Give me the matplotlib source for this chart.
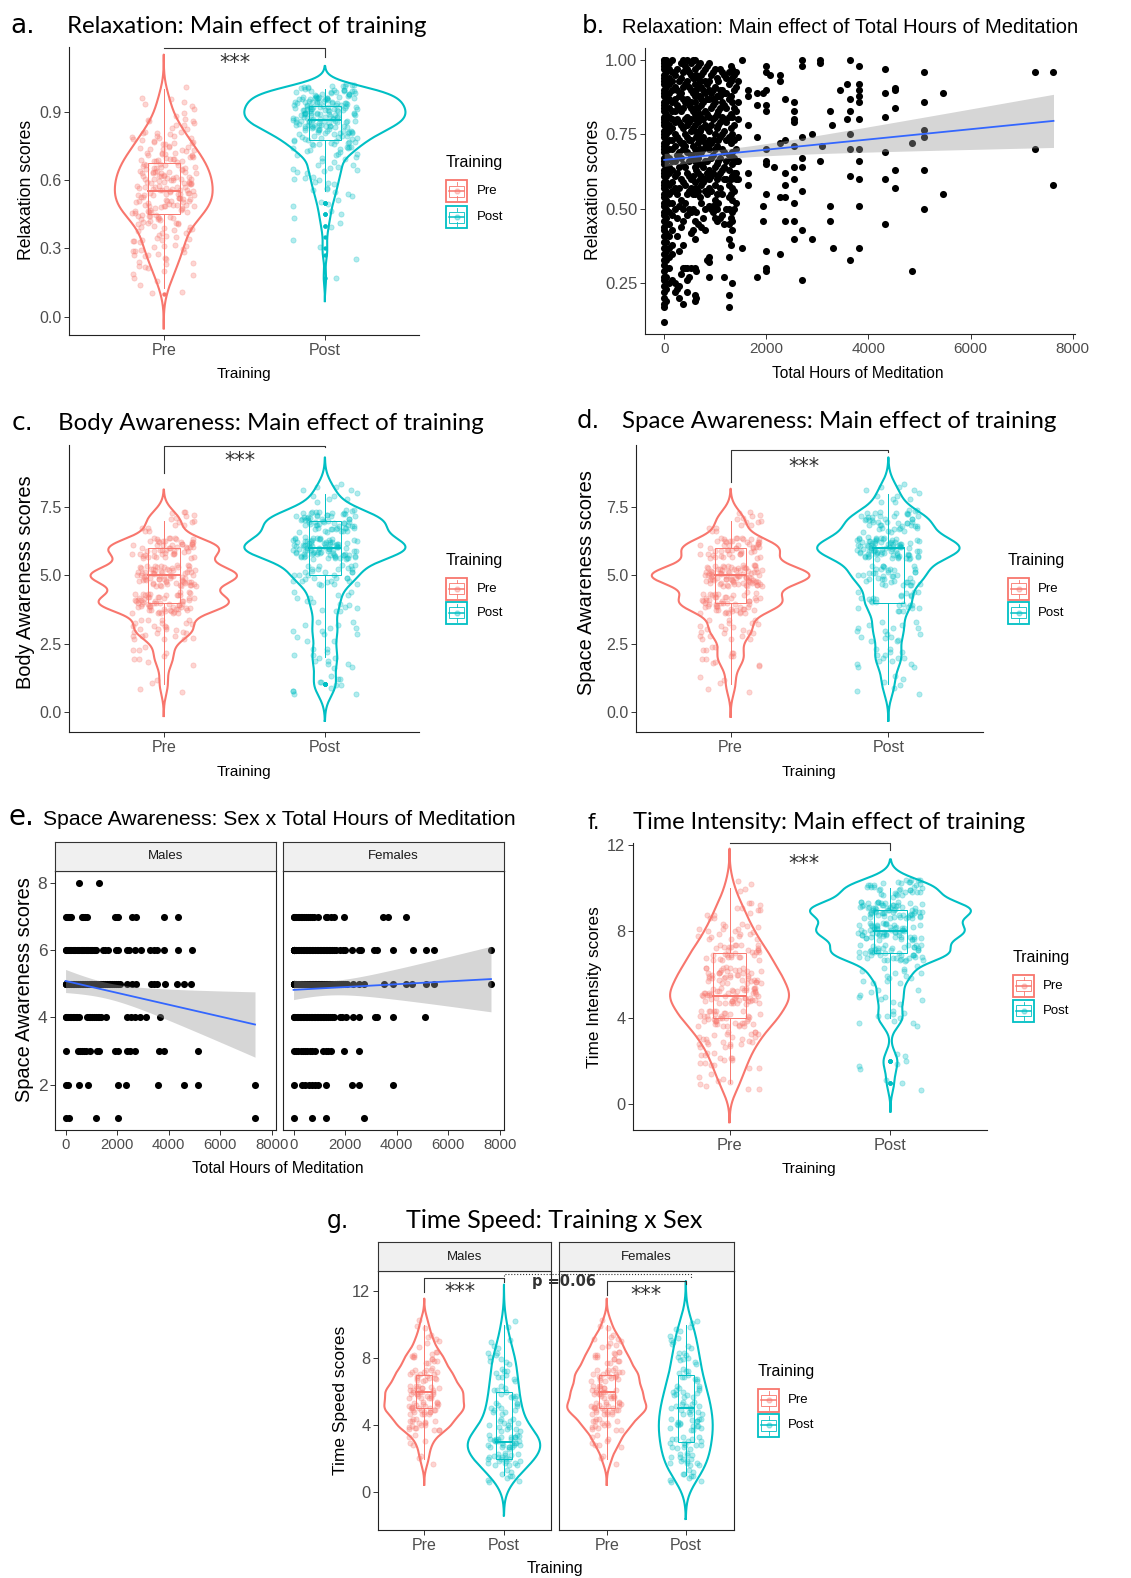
import numpy as np
import matplotlib
matplotlib.use('Agg')
import matplotlib.pyplot as plt
from matplotlib.patches import Rectangle
from matplotlib.lines import Line2D
from matplotlib.transforms import Affine2D
from matplotlib import font_manager

# ---------------- values ----------------
TRAINING = ['Pre', 'Post']

# a. relaxation scores: score level and number of participants on it
relax_pre_levels = [0.1, 0.125, 0.15, 0.175, 0.2, 0.225, 0.25, 0.275, 0.3, 0.325, 0.35, 0.375,
                    0.4, 0.425, 0.45, 0.475, 0.5, 0.525, 0.55, 0.575, 0.6, 0.625, 0.65, 0.675,
                    0.7, 0.725, 0.75, 0.775, 0.8, 0.825, 0.85, 0.875, 0.9, 0.925, 0.95, 0.975, 1.0]
relax_pre_counts = [1, 1, 2, 2, 3, 4, 4, 5, 5, 6, 6, 6, 7, 9, 11, 12, 13, 14, 13, 13, 13, 13, 12,
                    11, 11, 9, 8, 7, 6, 5, 4, 3, 2, 2, 2, 1, 1]
relax_post_levels = [0.17, 0.27, 0.3, 0.35, 0.4, 0.45, 0.5, 0.55, 0.6, 0.65, 0.7, 0.725, 0.75,
                     0.775, 0.8, 0.825, 0.85, 0.875, 0.9, 0.925, 0.95, 0.975, 1.0]
relax_post_counts = [1, 1, 1, 1, 2, 3, 4, 6, 7, 9, 7, 7, 9, 11, 13, 16, 21, 21, 21, 21, 19, 19, 18]

# c. body awareness
body_pre_levels = [1, 2, 3, 4, 5, 6, 7]
body_pre_counts = [4, 9, 28, 65, 73, 55, 16]
body_post_levels = [1, 2, 3, 4, 5, 6, 7, 8]
body_post_counts = [12, 13, 13, 15, 33, 90, 63, 11]

# d. space awareness
space_pre_levels = [1, 2, 3, 4, 5, 6, 7]
space_pre_counts = [5, 14, 22, 55, 87, 52, 15]
space_post_levels = [1, 2, 3, 4, 5, 6, 7, 8]
space_post_counts = [7, 15, 17, 26, 40, 86, 47, 12]

# f. time intensity
tint_levels = [1, 2, 3, 4, 5, 6, 7, 8, 9, 10]
tint_pre_counts = [9, 15, 24, 40, 52, 42, 32, 20, 12, 4]
tint_post_counts = [3, 6, 0, 10, 10, 15, 47, 58, 65, 36]

# g. time speed, by sex
speed_pre_levels = [2, 3, 4, 5, 6, 7, 8, 9, 10]
speed_post_levels = [1, 2, 3, 4, 5, 6, 7, 8, 9, 10]
speed_m_pre_counts = [3, 5, 18, 27, 26, 19, 13, 6, 3]
speed_m_post_counts = [9, 22, 30, 14, 12, 10, 9, 8, 4, 2]
speed_f_pre_counts = [3, 8, 15, 26, 22, 20, 14, 9, 3]
speed_f_post_counts = [10, 15, 16, 18, 16, 14, 10, 9, 7, 5]

# b. relaxation vs total hours: hours of each column of dots and the scores in it
b_hours = [0, 40, 90, 150, 220, 260, 300, 335, 370, 410, 450, 485, 520, 560, 600, 630, 660, 700,
           730, 770, 800, 840, 880, 910, 950, 990, 1030, 1060, 1100, 1140, 1180, 1220, 1260, 1300,
           1330, 1370, 1400, 1450, 1520, 1650, 1810, 1930, 2000, 2080, 2160, 2270, 2365, 2540,
           2704, 2886, 3050, 3081, 3244, 3277, 3310, 3440, 3570, 3635, 3818, 4319, 4515, 4853,
           5081, 5459, 7264, 7622]
b_scores = [
    [1.0, 1.0, .99, .98, .97, .95, .94, .93, .92, .9, .89, .88, .86, .85, .84, .83, .81, .8, .79,
     .78, .76, .75, .74, .72, .71, .7, .69, .67, .66, .65, .63, .62, .61, .59, .58, .57, .55, .54,
     .52, .51, .49, .48, .46, .44, .43, .41, .39, .37, .35, .33, .31, .29, .27, .26, .24, .22, .2,
     .18, .17, .12],
    [1.0, .98, .96, .93, .91, .89, .86, .84, .82, .79, .77, .75, .72, .7, .68, .66, .63, .61, .59,
     .56, .53, .5, .47, .45, .42, .39, .36, .33, .3, .27, .23, .19],
    [.99, .97, .94, .92, .89, .87, .84, .81, .78, .76, .73, .7, .67, .64, .62, .58, .55, .52, .49,
     .45, .41, .37, .34, .3, .25],
    [1.0, .96, .93, .9, .86, .83, .8, .77, .73, .7, .66, .63, .59, .56, .52, .48, .43, .38, .35, .26],
    [.95, .91, .87, .83, .79, .75, .71, .66, .61, .57, .5, .25, .22],
    [.97, .9, .85, .8, .74, .68, .62, .55, .47, .41, .23],
    [.93, .88, .84, .79, .73, .69, .64, .57, .51, .36, .24, .2],
    [.99, .94, .89, .83, .78, .72, .67, .6, .53, .44, .28],
    [1.0, .96, .91, .87, .84, .77, .72, .7, .65, .59, .5, .46, .38, .3, .18],
    [.98, .92, .86, .8, .75, .71, .64, .58, .52, .3],
    [1.0, .97, .93, .87, .81, .78, .74, .69, .62, .55, .48, .3, .26, .22],
    [.96, .91, .85, .79, .73, .66, .61, .56, .5, .27],
    [.99, .95, .9, .86, .84, .8, .76, .73, .68, .6, .57, .49, .42, .3],
    [1.0, .94, .89, .83, .77, .71, .67, .61, .55, .5, .43],
    [1.0, .97, .92, .88, .86, .82, .78, .76, .7, .66, .64, .59, .55, .46, .4, .3, .21, .19],
    [.95, .9, .84, .8, .74, .69, .63, .57, .49, .29, .2],
    [.98, .94, .91, .88, .84, .79, .75, .72, .67, .62, .56, .45],
    [.99, .93, .88, .82, .76, .7, .65, .6, .54],
    [.95, .91, .87, .85, .8, .77, .73, .69, .61, .58, .52, .44],
    [.96, .9, .86, .8, .74, .7, .64, .59, .47],
    [.97, .93, .89, .83, .78, .72, .66, .6, .56, .5, .43],
    [.98, .92, .87, .82, .77, .71, .66, .62, .55, .33],
    [.99, .93, .9, .87, .81, .76, .73, .7, .63, .6, .57, .51, .34, .32, .27],
    [.95, .89, .84, .78, .72, .67, .61, .56, .5],
    [.96, .9, .87, .85, .8, .73, .68, .62, .51, .49],
    [.97, .91, .86, .81, .75, .7, .64, .58, .53, .47],
    [.94, .88, .82, .77, .71, .65, .6, .55, .5, .46],
    [.93, .88, .83, .78, .73, .66, .61, .52],
    [.97, .9, .88, .84, .79, .74, .67, .62, .57, .47],
    [.96, .9, .86, .81, .75, .7, .63, .55, .48],
    [.95, .89, .85, .8, .76, .69, .64, .6, .45, .27],
    [.94, .89, .84, .79, .73, .66, .6, .5],
    [.96, .92, .87, .81, .74, .68, .63, .58, .54, .5, .45, .4, .34, .21, .17],
    [.98, .93, .88, .82, .77, .72, .67, .6, .55, .47, .38],
    [.97, .94, .86, .81, .75, .69, .65, .61, .57, .53, .49, .46, .43, .25],
    [.95, .9, .84, .78, .73, .67, .62, .56, .5],
    [.96, .91, .83, .7, .66, .62, .6, .52],
    [.93, .86, .8, .74, .66, .6],
    [1.0, .37],
    [.9, .88, .78, .62, .58],
    [.89, .85, .74, .27],
    [.89, .51, .46],
    [.98, .96, .9, .85, .83, .7, .66, .65, .55, .36, .3, .29],
    [.95],
    [.64],
    [.95, .93, .72, .54, .35],
    [.87, .73, .62, .58, .54, .46],
    [.86, .83, .8, .79, .71, .64, .6, .52, .46, .4],
    [1.0, .98, .74, .67, .64, .56, .43, .26],
    [.75, .4],
    [1.0, .99, .66],
    [.71],
    [.83, .51, .46],
    [.78],
    [.37],
    [.9],
    [.92, .8],
    [1.0, .87, .83, .75, .7, .61, .33],
    [.98, .92, .9, .88, .86, .8, .7, .66, .6, .51, .37],
    [.97, .89, .81, .69, .6, .45],
    [.905, .9, .84, .63, .57],
    [.72, .29],
    [.96, .86, .765, .74, .63, .5],
    [.89, .55],
    [.96, .7],
    [.96, .58],
]

# e. space awareness vs total hours; hours of every dot on each score row
e_levels = [8, 7, 6, 5, 4, 3, 2, 1]
e_males_hours = [
    [520, 1310],
    [0, 40, 90, 140, 190, 230, 620, 690, 760, 850, 1920, 1990, 2050, 2570, 2740, 3830, 4370],
    [0, 0, 40, 90, 130, 180, 230, 280, 330, 380, 430, 480, 530, 580, 630, 680, 730, 780, 830, 880,
     930, 980, 1030, 1090, 1150, 1200, 1460, 1540, 1640, 1950, 2020, 2370, 2450, 2690, 2910, 3290,
     3430, 3540, 3830, 4370, 4890],
    [0, 0, 0, 60, 130, 200, 270, 340, 410, 480, 550, 620, 690, 760, 830, 900, 970, 1040, 1110,
     1180, 1250, 1320, 1390, 1460, 1530, 1600, 1670, 1740, 1810, 1880, 1950, 2030, 2100, 2370,
     2560, 2720, 3300, 3440, 3560, 3850, 4330, 4590, 4860],
    [0, 0, 50, 100, 160, 220, 280, 340, 400, 460, 520, 830, 900, 960, 1030, 1100, 1170, 1240,
     1310, 1390, 1560, 2380, 2520, 2680, 2900, 3130, 3660],
    [0, 490, 570, 640, 720, 800, 940, 1230, 1300, 1920, 2040, 2370, 2500, 2700, 3640, 3830, 5140],
    [0, 100, 520, 880, 2030, 2360, 3600, 4600, 5130, 7350],
    [0, 130, 1200, 2030, 7350],
]
e_females_hours = [
    [],
    [0, 0, 50, 100, 160, 220, 280, 340, 420, 500, 570, 650, 730, 800, 960, 1240, 1310, 1440, 1580,
     1940, 3480, 3680, 4360],
    [0, 0, 0, 0, 0, 0, 20, 50, 80, 110, 170, 230, 290, 350, 410, 470, 530, 590, 650, 710, 770,
     830, 890, 950, 1010, 1070, 1130, 1190, 1250, 1310, 1370, 1430, 1490, 1560, 1640, 1820, 1900,
     2000, 2280, 2530, 2600, 3130, 3250, 3860, 4630, 5120, 5440, 7660],
    [0, 0, 0, 0, 0, 30, 50, 100, 160, 220, 280, 340, 400, 460, 520, 580, 640, 700, 760, 820, 880,
     940, 1000, 1060, 1120, 1180, 1240, 1300, 1360, 1420, 1480, 1540, 1600, 1680, 1760, 1840,
     1920, 2000, 2080, 2300, 2520, 2750, 3500, 3870, 4360, 4580, 5120, 5450, 7660],
    [0, 0, 60, 120, 180, 240, 300, 360, 420, 480, 540, 600, 660, 720, 780, 840, 900, 960, 1020,
     1080, 1140, 1200, 1260, 1320, 1400, 1480, 1560, 1800, 1880, 2050, 2300, 2550, 3150, 3250,
     3860, 5100],
    [0, 90, 180, 270, 360, 450, 540, 630, 720, 850, 1150, 1250, 1350, 1450, 1950, 2520],
    [0, 330, 450, 580, 700, 830, 960, 1250, 2250, 2550, 3850],
    [0, 720, 1260, 2750],
]

# ---------------- figure helpers ----------------
PRE, POST = '#F8766D', '#00BFC4'
COLORS = [PRE, POST]
plt.rcParams['font.family'] = ['Liberation Sans', 'DejaVu Sans']
_names = {f.name for f in font_manager.fontManager.ttflist}
NARROW = 'Liberation Sans Narrow' if 'Liberation Sans Narrow' in _names else 'Liberation Sans'
TITLE_FONT = 'Lato'

W, H = 1131, 1578
fig = plt.figure(figsize=(W / 100, H / 100), dpi=100)
PX = Affine2D().scale(1.0 / W, -1.0 / H).translate(0, 1) + fig.transFigure


def px_axes(l, t, r, b):
    return fig.add_axes([l / W, 1 - b / H, (r - l) / W, (b - t) / H])


def ptext(x, y, s, **kw):
    return fig.text(x, y, s, transform=PX, **kw)


def expand(levels, counts):
    return np.repeat(np.asarray(levels, float), counts)


def nrd0(x):
    sd = x.std(ddof=1)
    q75, q25 = np.percentile(x, [75, 25])
    lo = min(sd, (q75 - q25) / 1.34) or sd
    return 0.9 * lo * len(x) ** -0.2


def gauss_kde(x, bw, grid):
    z = (grid[:, None] - x[None, :]) / bw
    return np.exp(-0.5 * z * z).sum(1) / (len(x) * bw * np.sqrt(2 * np.pi))


def jitter(n, wx, wy, start):
    # deterministic spread (quadratic Weyl sequence), no random numbers
    i = np.arange(start, start + n, dtype=float)
    ux = (i * i * 0.5698402910 + i * 0.7548776662) % 1
    uy = (i * 0.5698402910) % 1
    return (ux - 0.5) * 2 * wx, (uy - 0.5) * 2 * wy


def draw_box(ax, vals, x0, col, w=0.2):
    q1, med, q3 = np.percentile(vals, [25, 50, 75])
    iqr = q3 - q1
    ok = (vals >= q1 - 1.5 * iqr) & (vals <= q3 + 1.5 * iqr)
    lo, hi = vals[ok].min(), vals[ok].max()
    ax.add_patch(Rectangle((x0 - w / 2, q1), w, q3 - q1, fill=False, ec=col, lw=0.7, zorder=3))
    ax.plot([x0 - w / 2, x0 + w / 2], [med, med], color=col, lw=1.4, zorder=3)
    ax.plot([x0, x0], [q3, hi], color=col, lw=0.7, zorder=3)
    ax.plot([x0, x0], [lo, q1], color=col, lw=0.7, zorder=3)
    out = vals[~ok]
    ax.scatter(np.full(len(out), x0), out, s=10, color=col, lw=0, zorder=3)


def violin_panel(ax, groups, yjit=0.4, width=1.0):
    curves = []
    for vals in groups:
        bw = nrd0(vals)
        grid = np.linspace(vals.min() - 3 * bw, vals.max() + 3 * bw, 512)
        curves.append((grid, gauss_kde(vals, bw, grid)))
    top = max(d.max() for _, d in curves)
    for k, ((grid, d), vals, col) in enumerate(zip(curves, groups, COLORS)):
        x0 = k + 1
        hw = d / top * width / 2
        ax.plot(np.concatenate([x0 - hw, (x0 + hw)[::-1], [x0 - hw[0]]]),
                np.concatenate([grid, grid[::-1], [grid[0]]]), color=col, lw=1.5, zorder=2)
        draw_box(ax, vals, x0, col)
        dx, dy = jitter(len(vals), 0.2, yjit, 1 + 500 * k)
        ax.scatter(x0 + dx, vals + dy, s=14, color=col, alpha=0.3, lw=0.6, zorder=4)
    ax.set_xticks([1, 2], TRAINING)


def lm_band(x, y, xs):
    n = len(x)
    slope, icpt = np.polyfit(x, y, 1)
    res = y - (icpt + slope * x)
    s = np.sqrt((res ** 2).sum() / (n - 2))
    se = s * np.sqrt(1 / n + (xs - x.mean()) ** 2 / ((x - x.mean()) ** 2).sum())
    return icpt + slope * xs, 1.965 * se


def scatter_fit(ax, x, y):
    ax.scatter(x, y, s=26, color='black', lw=0, zorder=2)
    xs = np.linspace(x.min(), x.max(), 120)
    fit, ci = lm_band(x, y, xs)
    ax.fill_between(xs, fit - ci, fit + ci, color='#999999', alpha=0.4, lw=0, zorder=3)
    ax.plot(xs, fit, color='#3366FF', lw=1.3, zorder=4)


def style(ax, size=11.5, xsize=None, box=False):
    for side in ('top', 'right'):
        ax.spines[side].set_visible(box)
    for sp in ax.spines.values():
        sp.set_color('#222222')
        sp.set_linewidth(0.8)
    ax.tick_params(length=3.5, width=0.7, color='#333333', labelcolor='#4D4D4D',
                   labelsize=size, pad=2)
    if xsize:
        ax.tick_params(axis='x', labelsize=xsize)


def strip(l, t, r, b, label):
    sa = px_axes(l, t, r, b)
    sa.set_xticks([])
    sa.set_yticks([])
    sa.set_facecolor('#F0F0F0')
    for sp in sa.spines.values():
        sp.set_color('#333333')
        sp.set_linewidth(0.8)
    sa.text(0.5, 0.5, label, transform=sa.transAxes, ha='center', va='center',
            fontsize=9.5, color='#1A1A1A')


def bracket(ax, y, tip1, tip2, x1=1, x2=2):
    ax.plot([x1, x1, x2, x2], [tip1, y, y, tip2], color='#333333', lw=0.8,
            clip_on=False, zorder=5)


def stars(x, baseline):
    ptext(x, baseline, '***', fontsize=15, family='DejaVu Sans', color='#333333',
          ha='center', va='baseline')


def legend(left, title_y, tops, label_x, kw=21, kh=22):
    ptext(left, title_y, 'Training', fontsize=11.5, ha='left', va='center')
    for top, col, lab in zip(tops, COLORS, TRAINING):
        fig.add_artist(Rectangle((left, top), kw, kh, transform=PX, fill=False, ec=col, lw=1.3))
        fig.add_artist(Rectangle((left + 0.125 * kw, top + 0.25 * kh), 0.75 * kw, 0.5 * kh,
                                 transform=PX, fill=False, ec=col, lw=0.6))
        fig.add_artist(Line2D([left + 0.125 * kw, left + 0.875 * kw], [top + 0.5 * kh] * 2,
                              transform=PX, color=col, lw=1.1))
        fig.add_artist(Line2D([left + 0.5 * kw] * 2, [top + 0.1 * kh, top + 0.25 * kh],
                              transform=PX, color=col, lw=0.6))
        fig.add_artist(Line2D([left + 0.5 * kw] * 2, [top + 0.75 * kh, top + 0.9 * kh],
                              transform=PX, color=col, lw=0.6))
        fig.add_artist(Line2D([left + 0.5 * kw], [top + 0.5 * kh], transform=PX, marker='o',
                              ms=3.5, color=col, alpha=0.35, lw=0))
        ptext(label_x, top + kh / 2, lab, fontsize=9.5, ha='left', va='center')


def heading(lx, x, baseline, letter, lsize, text, width, family=TITLE_FONT):
    ptext(lx, baseline, letter, fontsize=lsize, family='DejaVu Sans', va='baseline')
    t = ptext(x, baseline, text, fontsize=16, family=family, va='baseline')
    w = t.get_window_extent(renderer=fig.canvas.get_renderer()).width
    t.set_fontsize(16 * width / w)


def labels(xl, yl, xtext, ytext, xsize, ysize):
    ptext(xl[0], xl[1], xtext, fontsize=xsize, ha='center', va='center')
    ptext(yl[0], yl[1], ytext, fontsize=ysize, rotation=90, ha='center', va='center')


# ---------------- a ----------------
ax = px_axes(69, 47, 419, 335)
violin_panel(ax, [expand(relax_pre_levels, relax_pre_counts),
                  expand(relax_post_levels, relax_post_counts)], yjit=0.02)
ax.set_xlim(0.412, 2.584)
ax.set_ylim(-0.08, 1.184)
ax.set_yticks([0, 0.3, 0.6, 0.9], ['0.0', '0.3', '0.6', '0.9'])
style(ax)
bracket(ax, 1.178, 1.178, 1.141)
stars(235, 69)
legend(446, 163, [180, 206], 477)
heading(10, 67, 33, 'a.', 19, 'Relaxation: Main effect of training', 360)
labels((244, 374), (27, 190), 'Training', 'Relaxation scores', 11, 12.7)

# ---------------- b ----------------
ax = px_axes(645, 48, 1075, 334)
bx = np.concatenate([np.full(len(s), h, float) for h, s in zip(b_hours, b_scores)])
by = np.concatenate([np.asarray(s, float) for s in b_scores])
scatter_fit(ax, bx, by)
ax.set_xlim(-375, 8043)
ax.set_ylim(0.08, 1.04)
ax.set_xticks([0, 2000, 4000, 6000, 8000])
ax.set_yticks([0.25, 0.5, 0.75, 1.0], ['0.25', '0.50', '0.75', '1.00'])
style(ax, 12, xsize=11)
heading(582, 622, 33, 'b.', 17.5, 'Relaxation: Main effect of Total Hours of Meditation', 456,
        family=NARROW)
labels((858, 373), (593, 190), 'Total Hours of Meditation', 'Relaxation scores', 11.2, 12.7)

# ---------------- c ----------------
ax = px_axes(69, 445, 419, 732)
violin_panel(ax, [expand(body_pre_levels, body_pre_counts),
                  expand(body_post_levels, body_post_counts)])
ax.set_xlim(0.412, 2.584)
ax.set_ylim(-0.745, 9.79)
ax.set_yticks([0, 2.5, 5, 7.5], ['0.0', '2.5', '5.0', '7.5'])
style(ax)
bracket(ax, 9.77, 8.75, 9.72)
stars(240, 467)
legend(446, 561, [578, 602], 477)
heading(12, 58, 430, 'c.', 18, 'Body Awareness: Main effect of training', 427)
labels((244, 772), (26, 582), 'Training', 'Body Awareness scores', 11, 14.4)

# ---------------- d ----------------
ax = px_axes(636, 445, 983, 732)
violin_panel(ax, [expand(space_pre_levels, space_pre_counts),
                  expand(space_post_levels, space_post_counts)])
ax.set_xlim(0.4, 2.6)
ax.set_ylim(-0.745, 9.79)
ax.set_yticks([0, 2.5, 5, 7.5], ['0.0', '2.5', '5.0', '7.5'])
style(ax)
bracket(ax, 9.6, 8.44, 9.54)
stars(804, 473)
legend(1008, 561, [578, 602], 1038)
heading(577, 622, 428, 'd.', 17.5, 'Space Awareness: Main effect of training', 436)
labels((809, 772), (587, 583), 'Training', 'Space Awareness scores', 11, 14.4)

# ---------------- e ----------------
e_axes = []
for (l, r), hours, lab in zip([(55, 276), (283, 504)], [e_males_hours, e_females_hours],
                              ['Males', 'Females']):
    ax = px_axes(l, 871, r, 1130)
    ex = np.concatenate([np.asarray(h, float) for h in hours])
    ey = np.concatenate([np.full(len(h), lv, float) for h, lv in zip(hours, e_levels)])
    scatter_fit(ax, ex, ey)
    ax.set_xlim(-410, 8165)
    ax.set_ylim(0.65, 8.36)
    ax.set_xticks([0, 2000, 4000, 6000, 8000])
    ax.set_yticks([2, 4, 6, 8])
    style(ax, 12.5, xsize=10.7, box=True)
    strip(l, 842, r, 871, lab)
    e_axes.append(ax)
e_axes[1].tick_params(axis='y', left=False, labelleft=False)
heading(8, 43, 825, 'e.', 20, 'Space Awareness: Sex x Total Hours of Meditation', 475,
        family=NARROW)
labels((278, 1169), (25, 990), 'Total Hours of Meditation', 'Space Awareness scores', 11.2, 14.4)

# ---------------- f ----------------
ax = px_axes(633, 843, 987, 1130)
violin_panel(ax, [expand(tint_levels, tint_pre_counts), expand(tint_levels, tint_post_counts)])
ax.set_xlim(0.4, 2.6)
ax.set_ylim(-1.19, 12.09)
ax.set_yticks([0, 4, 8, 12])
style(ax, 11.8)
bracket(ax, 12.07, 12.07, 11.77)
stars(804, 870)
legend(1013, 958, [975, 1000], 1043)
heading(588, 633, 829, 'f.', 15, 'Time Intensity: Main effect of training', 395)
labels((809, 1169), (595, 987), 'Training', 'Time Intensity scores', 11, 12.3)

# ---------------- g ----------------
g_groups = [[expand(speed_pre_levels, speed_m_pre_counts),
             expand(speed_post_levels, speed_m_post_counts)],
            [expand(speed_pre_levels, speed_f_pre_counts),
             expand(speed_post_levels, speed_f_post_counts)]]
g_axes = []
for (l, r), grp, lab, xl in zip([(378, 551), (559, 734)], g_groups, ['Males', 'Females'],
                                [(0.42, 2.59), (0.396, 2.61)]):
    ax = px_axes(l, 1271, r, 1530)
    violin_panel(ax, grp)
    ax.set_xlim(*xl)
    ax.set_ylim(-2.25, 13.19)
    ax.set_yticks([0, 4, 8, 12])
    style(ax, 11.8, xsize=11.5, box=True)
    strip(l, 1242, r, 1271, lab)
    g_axes.append(ax)
g_axes[1].tick_params(axis='y', left=False, labelleft=False)
bracket(g_axes[0], 12.75, 11.92, 12.55)
bracket(g_axes[1], 12.61, 11.76, 12.41)
stars(460, 1298)
stars(646, 1301)
fig.add_artist(Line2D([504, 504, 690.7, 690.7], [1279, 1274.3, 1274.3, 1279], transform=PX,
                      color='#333333', lw=0.8, ls=':'))
ptext(532, 1282, 'p =0.06', fontsize=10.5, family='DejaVu Sans', fontweight='bold',
      color='#333333', ha='left', va='center')
legend(758, 1372, [1389, 1414], 788, kh=23)
heading(327, 406, 1228, 'g.', 17, 'Time Speed: Training x Sex', 299)
labels((555, 1569), (340, 1400), 'Training', 'Time Speed scores', 11.3, 12.5)

fig.savefig('out.png', dpi=100)
